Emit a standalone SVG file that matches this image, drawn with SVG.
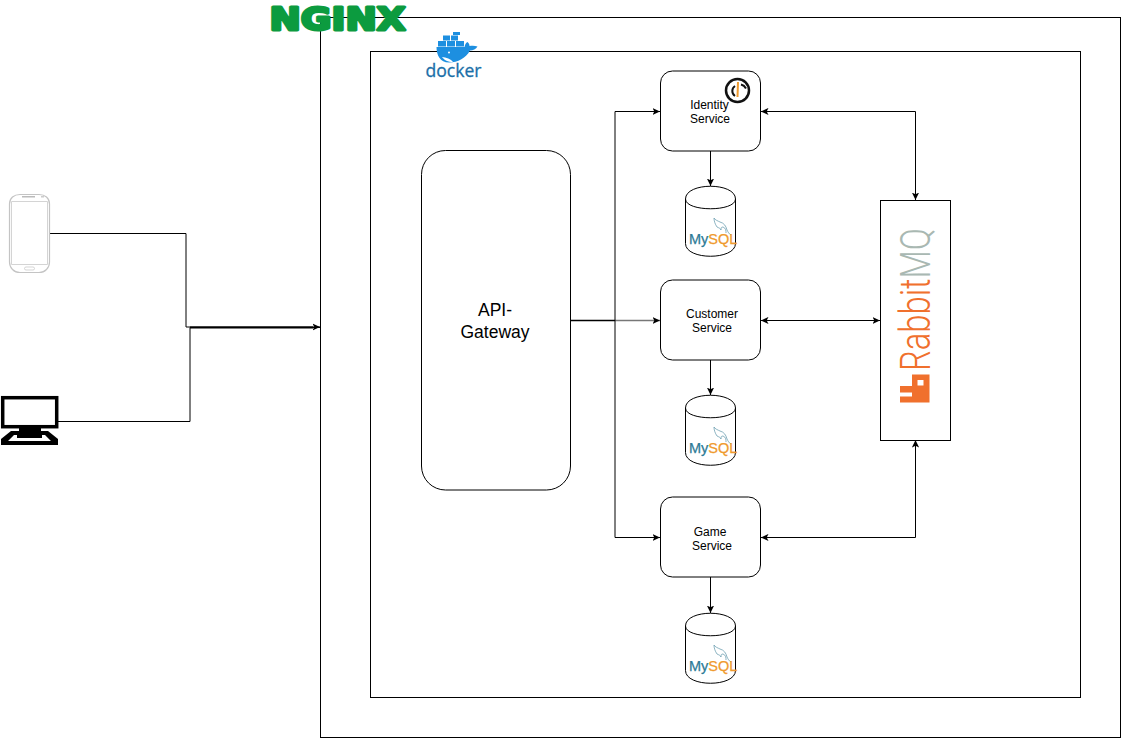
<svg xmlns="http://www.w3.org/2000/svg" width="1131" height="748" viewBox="0 0 1131 748">
<style>
.box{fill:#fff;stroke:#000;stroke-width:1}
.open{fill:none;stroke:#000;stroke-width:1}
.lbl{font-family:"Liberation Sans",Arial,sans-serif;font-size:12px;fill:#000;text-anchor:middle}
.big{font-size:17.500px}
.my{font-family:"Liberation Sans",sans-serif;font-size:14.500px;stroke-width:.25}
.cyl{fill:#fff;stroke:#000;stroke-width:1}
.con{fill:none;stroke:#000;stroke-width:1}
.dk{fill:#1d8fe0}
</style>
<defs>
<marker id="a" viewBox="0 0 8 8" refX="7.500" refY="4" markerWidth="8" markerHeight="8" markerUnits="userSpaceOnUse" orient="auto-start-reverse"><path d="M0 0.400L7.500 4L0 7.600L1.800 4Z" fill="#000"/></marker>
<g id="db">
<path class="cyl" d="M685.500 199C685.500 182 735.500 182 735.500 199V243.500C735.500 260.500 685.500 260.500 685.500 243.500Z"/>
<path class="open" d="M685.500 199C685.500 212 735.500 212 735.500 199"/>
<path d="M731 235c-2-1-3-3-4-5c-1-4-3-7-7-8c-2-1-5-2-6-4c0 3 1 6 3 9c2 1 3 1 4 3c0-2 0-3 2-3c3 1 3 4 3 6" fill="none" stroke="#5b93a8" stroke-width=".7"/>
<text class="my" x="689" y="244"><tspan fill="#2d7a96" stroke="#2d7a96">My</tspan><tspan fill="#ef9a2e" stroke="#ef9a2e">SQL</tspan></text>
</g>
</defs>
<g id="nginx-frame"><rect class="box" x="320.500" y="17.500" width="800" height="720"/></g>
<g id="nginx-logo"><text x="269.500" y="30" font-family="'DejaVu Sans',sans-serif" font-size="32" font-weight="bold" fill="#0c9b3f" stroke="#0c9b3f" stroke-width="3" stroke-linejoin="round" textLength="136" lengthAdjust="spacingAndGlyphs">NGINX</text></g>
<g id="docker-frame"><rect class="box" x="370.500" y="51.500" width="710" height="646"/></g>
<g id="docker-logo">
<path d="M436.500 47H464.500C465 44 466.500 42.500 467.500 42C469 43 469.500 45 469.500 46C472 45.500 475 45.500 477.500 46.500C476 49 473 50.500 470 50.500C466 58 458 62.500 449 62.500C440 62.500 436.500 55 436.500 47Z" class="dk"/>
<g class="dk"><rect x="438" y="41" width="8" height="5.500"/><rect x="447" y="41" width="8" height="5.500"/><rect x="456" y="41" width="8" height="5.500"/><rect x="443" y="35.500" width="7" height="5"/><rect x="451" y="35.500" width="7" height="5"/><rect x="453" y="32" width="7" height="3"/></g>
<circle cx="449" cy="52.500" r="1" fill="#fff"/>
<path d="M442 57c4 .5 9 2 11 5c-5 0-9-2-11-5z" fill="#fff"/>
<text x="453.500" y="77" font-family="'Open Sans',sans-serif" font-size="17.500" fill="#1a6fa8" stroke="#1a6fa8" stroke-width=".3" text-anchor="middle" textLength="56" lengthAdjust="spacingAndGlyphs">docker</text>
</g>
<g id="connectors">
<path class="con" d="M50 233.500H186V327H320" marker-end="url(#a)"/>
<path class="con" d="M58 421.500H190V327.500H320"/>
<path d="M190 327.500H313" stroke="#000" stroke-width="2" fill="none"/>
<path d="M570.500 320.500H615" stroke="#000" stroke-width="1.300" fill="none"/>
<path d="M615 320.500H660" stroke="#777" stroke-width="1.300" fill="none" marker-end="url(#a)"/>
<path class="con" d="M615 320.500V111.500H660" marker-end="url(#a)"/>
<path class="con" d="M615 320.500V537.500H660" marker-end="url(#a)"/>
<path class="con" d="M710.500 151V186" marker-end="url(#a)"/>
<path class="con" d="M710.500 360V395" marker-end="url(#a)"/>
<path class="con" d="M710.500 577V613" marker-end="url(#a)"/>
<path class="con" d="M761 111.500H915.500V200" marker-start="url(#a)" marker-end="url(#a)"/>
<path class="con" d="M761 320.500H880" marker-start="url(#a)" marker-end="url(#a)"/>
<path class="con" d="M761 537.500H915.500V440" marker-start="url(#a)" marker-end="url(#a)"/>
</g>
<g id="phone">
<path d="M9.500 204C9.500 198 14 194.500 20 194.500H39C45 194.500 49.500 198 49.500 204V262C49.500 268 45 272.500 39 272.500H20C14 272.500 9.500 268 9.500 262Z" fill="#fff" stroke="#c4c4c4" stroke-width="1.200"/>
<path d="M11.500 201.500H47.500V264.500H11.500Z" fill="#fff" stroke="#d4d4d4" stroke-width="1"/>
<rect x="22" y="196" width="13" height="1.500" fill="#bbb"/><rect x="41" y="196" width="3" height="1.500" fill="#ccc"/>
<rect x="24.500" y="267" width="10" height="3" rx="1.500" fill="#fff" stroke="#c4c4c4" stroke-width=".7"/>
</g>
<g id="desktop">
<rect x="2.700" y="397.700" width="54" height="29" fill="#fff" stroke="#000" stroke-width="3.500"/>
<path d="M19 427H41V431H48L58 439V445H1V439L11 431H19Z" fill="#000"/>
<path d="M8 441L14 435H17V438H42V435H45L51 441Z" fill="#fff"/>
</g>
<g id="api-gateway"><rect class="box" x="421.500" y="150.500" width="149" height="339.500" rx="24"/><text class="lbl big" x="495" y="316">API-</text><text class="lbl big" x="495" y="338">Gateway</text></g>
<g id="identity-service"><rect class="box" x="660.500" y="71" width="100" height="80" rx="12"/><text class="lbl" x="709.500" y="109">Identity</text><text class="lbl" x="710" y="123">Service</text>
<circle cx="737.500" cy="90.500" r="11.500" fill="#fff" stroke="#111" stroke-width="2.500"/><path d="M738 82L737.500 97" stroke="#ef9a2e" stroke-width="2"/><path d="M735 86a6 6 0 0 0 0 10M741 84.500c2 .5 4 2 5 4" fill="none" stroke="#111" stroke-width="2"/></g>
<g id="customer-service"><rect class="box" x="660.500" y="280" width="100" height="80" rx="12"/><text class="lbl" x="712" y="318">Customer</text><text class="lbl" x="712" y="332">Service</text></g>
<g id="game-service"><rect class="box" x="660.500" y="497" width="100" height="80" rx="12"/><text class="lbl" x="710" y="536">Game</text><text class="lbl" x="712" y="550">Service</text></g>
<g id="db-identity"><use href="#db"/></g>
<g id="db-customer"><use href="#db" y="209"/></g>
<g id="db-game"><use href="#db" y="427"/></g>
<g id="rabbitmq"><rect class="box" x="880.500" y="200.500" width="70" height="240"/>
<path d="M912 374.500H929.500V402.500H900V396.500H912V392.500H900V386H912ZM917.500 380V385.500H923.500V380Z" fill="#f0702d" fill-rule="evenodd"/>
<text transform="translate(930 371) rotate(-90)" font-family="Roboto,sans-serif" font-weight="300" font-size="42" textLength="143" lengthAdjust="spacingAndGlyphs"><tspan fill="#f0702d">Rabbit</tspan><tspan fill="#a9b8b2">MQ</tspan></text>
</g>
</svg>
